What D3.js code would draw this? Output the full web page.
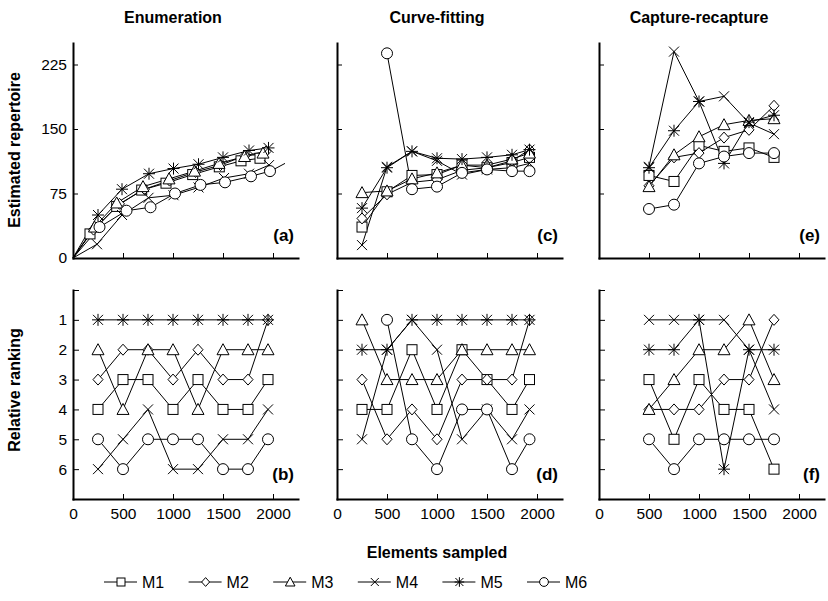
<!DOCTYPE html>
<html><head><meta charset="utf-8">
<script src="https://cdn.jsdelivr.net/npm/d3@7"></script>
<style>
body{margin:0;background:#fff}
svg{display:block;font-family:"Liberation Sans",Arial,sans-serif}
</style>
</head><body>
<svg width="828" height="601"></svg>
<script>
const methods=["M1","M2","M3","M4","M5","M6"]
const shapes=["square","diamond","triangle","cross","star","circle"]
const titles=["Enumeration","Curve-fitting","Capture-recapture"]
const topTags=["(a)","(c)","(e)"]
const botTags=["(b)","(d)","(f)"]
const xTicks=[0,500,1000,1500,2000]
const estTicks=[0,75,150,225]
const rankTicks=[0,1,2,3,4,5,6]

// (a) enumeration: every curve has its own marker positions
const enumX=[
[170,437,687,930,1197,1463,1680,1870],
[205,465,715,965,1225,1475,1720,1930],
[215,437,700,960,1215,1460,1715,1900],
[240,490,755,1005,1255,1510,1760,1960],
[250,490,760,1005,1255,1500,1760,1955],
[265,535,775,1020,1275,1520,1780,1970]]
const enumY=[
[28,60,79,87,97,106,113,116],
[33,63,80,90,100,108,119,124],
[36,64,83,92,101,110,118,122],
[16,50,70,73,82,93,98,108],
[50,80,98,104,109,117,125,128],
[36,55,59,75,85,88,95,101]]
const m6TailX=[2040,2120]
const m6TailY=[105,110]

// (b)
const enumRankX=[250,500,750,1000,1250,1500,1750,1950]
const enumRank=[
[4,3,3,4,3,4,4,3],
[3,2,2,3,2,3,3,1],
[2,4,2,2,4,2,2,2],
[6,5,4,6,6,5,5,4],
[1,1,1,1,1,1,1,1],
[5,6,5,5,5,6,6,5]]

// (c) and (d)
const fitX=[250,500,750,1000,1250,1500,1750,1925]
const fitY=[
[36,77,96,97,108,105,111,117],
[46,74,88,91,102,105,113,126],
[76,78,92,99,108,108,115,122],
[15,106,124,113,97,103,105,110],
[58,105,124,116,115,117,120,126],
[null,238,80,83,99,103,101,101]]
const fitRank=[
[4,4,2,4,2,3,4,3],
[3,5,4,5,3,3,3,1],
[1,3,3,3,2,2,2,2],
[5,2,1,2,5,4,5,4],
[2,2,1,1,1,1,1,1],
[null,1,5,6,4,4,6,5]]

// (e) and (f)
const capX=[500,750,1000,1250,1500,1750]
const capY=[
[96,89,131,124,128,117],
[84,117,122,140,149,177],
[83,120,141,155,160,162],
[106,240,182,188,157,144],
[105,148,182,110,158,166],
[57,62,110,118,122,122]]
const capRank=[
[3,5,3,4,4,6],
[4,4,4,3,3,1],
[4,3,2,2,1,3],
[1,1,1,1,2,4],
[2,2,1,6,2,2],
[5,6,5,5,5,5]]

const svg=d3.select("svg")
const panelX=[73,337,599]

mark=(g,shape,cx,cy,sc)=>{
let s=g.append("g").attr("transform",`translate(${cx},${cy}) scale(${sc||1})`)
.attr("fill","#fff").attr("stroke","#000").attr("stroke-width",1/(sc||1))
if(shape=="square") s.append("rect").attr("x",-5).attr("y",-5).attr("width",10).attr("height",10)
if(shape=="diamond") s.append("path").attr("d","M0,-5.5L5,0L0,5.5L-5,0Z")
if(shape=="triangle") s.append("path").attr("d","M0,-6L6,5L-6,5Z")
if(shape=="circle") s.append("circle").attr("r",5.5)
if(shape=="cross"||shape=="star") s.append("path").attr("d","M-5,-5L5,5M-5,5L5,-5")
if(shape=="star") s.append("path").attr("d","M0,-6V6M-6,0H6")
}

const lineGen=(x,y)=>d3.line().defined(d=>d[1]!=null).x(d=>x(d[0])).y(d=>y(d[1]))

styleAxis=(g)=>{
g.attr("font-size",15.5).attr("font-family","Liberation Sans, Arial, sans-serif")
g.select(".domain").attr("stroke","#000").attr("stroke-width",2).attr("stroke-linecap","square")
g.selectAll(".tick line").attr("stroke","#000").attr("stroke-width",1)
g.selectAll(".tick text").attr("fill","#000")
}

drawSeries=(g,xs,ys,x,y,extra)=>{
let pts=xs.map((v,j)=>[v,ys[j]])
let all=extra?extra(pts):pts
g.append("path").attr("d",lineGen(x,y)(all)).attr("fill","none").attr("stroke","#000").attr("stroke-width",1)
return pts
}

for(let i=0;i<3;i++){
let x0=panelX[i]
let x=d3.scaleLinear().domain([0,2250]).range([x0,x0+225])
let yt=d3.scaleLinear().domain([0,250]).range([258,43])
let yr=d3.scaleLinear().domain([0,7]).range([290,499])

// top axes
svg.append("g").attr("transform","translate(0,258)")
.call(d3.axisBottom(x).tickValues(xTicks.slice(1)).tickSizeInner(-5).tickSizeOuter(0).tickFormat(""))
.call(styleAxis)
svg.append("g").attr("transform",`translate(${x0},0)`)
.call(d3.axisLeft(yt).tickValues(estTicks).tickSizeInner(-5).tickSizeOuter(0).tickPadding(6).tickFormat(d=>i==0?String(d):""))
.call(styleAxis)
// bottom axes
svg.append("g").attr("transform","translate(0,499)")
.call(d3.axisBottom(x).tickValues(xTicks).tickSizeInner(-5).tickSizeOuter(0).tickPadding(9).tickFormat(d=>String(d)))
.call(styleAxis)
svg.append("g").attr("transform",`translate(${x0},0)`)
.call(d3.axisLeft(yr).tickValues(rankTicks).tickSizeInner(-6).tickSizeOuter(0).tickPadding(6).tickFormat(d=>i==0&&d>0?String(d):""))
.call(styleAxis)

svg.append("text").attr("x",x(1000)).attr("y",23).attr("text-anchor","middle")
.attr("font-size",16).attr("font-weight","bold").text(titles[i])
svg.append("text").attr("x",x0+221).attr("y",241).attr("text-anchor","end")
.attr("font-size",17).attr("font-weight","bold").text(topTags[i])
svg.append("text").attr("x",x0+221).attr("y",480).attr("text-anchor","end")
.attr("font-size",17).attr("font-weight","bold").text(botTags[i])

let gl=svg.append("g"), gm=svg.append("g")
let topY,rX,rk
if(i==0){topY=enumY;rX=enumRankX;rk=enumRank}
if(i==1){topY=fitY;rX=fitX;rk=fitRank}
if(i==2){topY=capY;rX=capX;rk=capRank}

let markers=[]
for(let k=0;k<6;k++){
let xs=i==0?enumX[k]:rX
let extra=null
if(i==0) extra=(p)=>{
let a=[[0,0]].concat(p)
if(k==5) a=a.concat(m6TailX.map((v,j)=>[v,m6TailY[j]]))
return a
}
let p1=drawSeries(gl,xs,topY[k],x,yt,extra)
p1.forEach(d=>{if(d[1]!=null) markers.push([shapes[k],x(d[0]),yt(d[1])])})
let p2=drawSeries(gl,rX,rk[k],x,yr,null)
p2.forEach(d=>{if(d[1]!=null) markers.push([shapes[k],x(d[0]),yr(d[1])])})
}
markers.forEach(m=>mark(gm,m[0],m[1],m[2]))
}

// axis titles
svg.append("text").attr("transform","translate(20,150) rotate(-90)").attr("text-anchor","middle")
.attr("font-size",16).attr("font-weight","bold").text("Estimated repertoire")
svg.append("text").attr("transform","translate(20,390) rotate(-90)").attr("text-anchor","middle")
.attr("font-size",16).attr("font-weight","bold").text("Relative ranking")
svg.append("text").attr("x",437).attr("y",558).attr("text-anchor","middle")
.attr("font-size",16).attr("font-weight","bold").text("Elements sampled")

// legend
const lx=d3.scaleLinear().domain([0,5]).range([121,544])
methods.forEach((m,k)=>{
let cx=lx(k)
svg.append("line").attr("x1",cx-17).attr("x2",cx+16).attr("y1",582).attr("y2",582).attr("stroke","#000")
mark(svg,shapes[k],cx,582,0.8)
svg.append("text").attr("x",cx+21).attr("y",588).attr("font-size",16).text(m)
})
</script>
</body></html>
